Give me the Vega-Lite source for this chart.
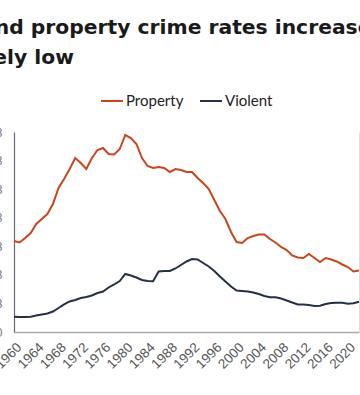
{
  "$schema": "https://vega.github.io/schema/vega-lite/v6.json",
  "width": 345,
  "height": 200,
  "autosize": {"type": "none"},
  "padding": {"left": 14, "top": 132, "right": 1, "bottom": 63},
  "background": "white",
  "title": {
    "text": ["Violent and property crime rates increased through 1991, but today each rate", "is relatively low"],
    "anchor": "start",
    "frame": "group",
    "dx": -121,
    "font": "DejaVu Sans",
    "fontSize": 20.3,
    "fontWeight": "bold",
    "color": "#1a1a1a",
    "lineHeight": 30,
    "offset": 21
  },
  "config": {
    "view": {"stroke": null},
    "legend": {"layout": {"top": {"anchor": "middle"}}}
  },
  "datasets": {
    "crime": [
      {"year": 1960, "series": "Property", "value": 3185},
      {"year": 1961, "series": "Property", "value": 3133},
      {"year": 1962, "series": "Property", "value": 3290},
      {"year": 1963, "series": "Property", "value": 3465},
      {"year": 1964, "series": "Property", "value": 3780},
      {"year": 1965, "series": "Property", "value": 3955},
      {"year": 1966, "series": "Property", "value": 4130},
      {"year": 1967, "series": "Property", "value": 4480},
      {"year": 1968, "series": "Property", "value": 5040},
      {"year": 1969, "series": "Property", "value": 5355},
      {"year": 1970, "series": "Property", "value": 5705},
      {"year": 1971, "series": "Property", "value": 6090},
      {"year": 1972, "series": "Property", "value": 5915},
      {"year": 1973, "series": "Property", "value": 5705},
      {"year": 1974, "series": "Property", "value": 6090},
      {"year": 1975, "series": "Property", "value": 6370},
      {"year": 1976, "series": "Property", "value": 6440},
      {"year": 1977, "series": "Property", "value": 6230},
      {"year": 1978, "series": "Property", "value": 6213},
      {"year": 1979, "series": "Property", "value": 6405},
      {"year": 1980, "series": "Property", "value": 6895},
      {"year": 1981, "series": "Property", "value": 6790},
      {"year": 1982, "series": "Property", "value": 6580},
      {"year": 1983, "series": "Property", "value": 6090},
      {"year": 1984, "series": "Property", "value": 5810},
      {"year": 1985, "series": "Property", "value": 5740},
      {"year": 1986, "series": "Property", "value": 5775},
      {"year": 1987, "series": "Property", "value": 5740},
      {"year": 1988, "series": "Property", "value": 5600},
      {"year": 1989, "series": "Property", "value": 5705},
      {"year": 1990, "series": "Property", "value": 5670},
      {"year": 1991, "series": "Property", "value": 5600},
      {"year": 1992, "series": "Property", "value": 5600},
      {"year": 1993, "series": "Property", "value": 5390},
      {"year": 1994, "series": "Property", "value": 5215},
      {"year": 1995, "series": "Property", "value": 5005},
      {"year": 1996, "series": "Property", "value": 4620},
      {"year": 1997, "series": "Property", "value": 4235},
      {"year": 1998, "series": "Property", "value": 3955},
      {"year": 1999, "series": "Property", "value": 3500},
      {"year": 2000, "series": "Property", "value": 3150},
      {"year": 2001, "series": "Property", "value": 3115},
      {"year": 2002, "series": "Property", "value": 3290},
      {"year": 2003, "series": "Property", "value": 3360},
      {"year": 2004, "series": "Property", "value": 3413},
      {"year": 2005, "series": "Property", "value": 3413},
      {"year": 2006, "series": "Property", "value": 3255},
      {"year": 2007, "series": "Property", "value": 3133},
      {"year": 2008, "series": "Property", "value": 2975},
      {"year": 2009, "series": "Property", "value": 2870},
      {"year": 2010, "series": "Property", "value": 2678},
      {"year": 2011, "series": "Property", "value": 2608},
      {"year": 2012, "series": "Property", "value": 2590},
      {"year": 2013, "series": "Property", "value": 2730},
      {"year": 2014, "series": "Property", "value": 2590},
      {"year": 2015, "series": "Property", "value": 2450},
      {"year": 2016, "series": "Property", "value": 2590},
      {"year": 2017, "series": "Property", "value": 2538},
      {"year": 2018, "series": "Property", "value": 2468},
      {"year": 2019, "series": "Property", "value": 2363},
      {"year": 2020, "series": "Property", "value": 2275},
      {"year": 2021, "series": "Property", "value": 2118},
      {"year": 2022, "series": "Property", "value": 2153},
      {"year": 1960, "series": "Violent", "value": 536},
      {"year": 1961, "series": "Violent", "value": 525},
      {"year": 1962, "series": "Violent", "value": 525},
      {"year": 1963, "series": "Violent", "value": 536},
      {"year": 1964, "series": "Violent", "value": 578},
      {"year": 1965, "series": "Violent", "value": 613},
      {"year": 1966, "series": "Violent", "value": 648},
      {"year": 1967, "series": "Violent", "value": 718},
      {"year": 1968, "series": "Violent", "value": 840},
      {"year": 1969, "series": "Violent", "value": 963},
      {"year": 1970, "series": "Violent", "value": 1068},
      {"year": 1971, "series": "Violent", "value": 1120},
      {"year": 1972, "series": "Violent", "value": 1190},
      {"year": 1973, "series": "Violent", "value": 1225},
      {"year": 1974, "series": "Violent", "value": 1278},
      {"year": 1975, "series": "Violent", "value": 1365},
      {"year": 1976, "series": "Violent", "value": 1418},
      {"year": 1977, "series": "Violent", "value": 1558},
      {"year": 1978, "series": "Violent", "value": 1663},
      {"year": 1979, "series": "Violent", "value": 1785},
      {"year": 1980, "series": "Violent", "value": 2030},
      {"year": 1981, "series": "Violent", "value": 1978},
      {"year": 1982, "series": "Violent", "value": 1908},
      {"year": 1983, "series": "Violent", "value": 1820},
      {"year": 1984, "series": "Violent", "value": 1785},
      {"year": 1985, "series": "Violent", "value": 1775},
      {"year": 1986, "series": "Violent", "value": 2118},
      {"year": 1987, "series": "Violent", "value": 2135},
      {"year": 1988, "series": "Violent", "value": 2135},
      {"year": 1989, "series": "Violent", "value": 2223},
      {"year": 1990, "series": "Violent", "value": 2345},
      {"year": 1991, "series": "Violent", "value": 2468},
      {"year": 1992, "series": "Violent", "value": 2555},
      {"year": 1993, "series": "Violent", "value": 2538},
      {"year": 1994, "series": "Violent", "value": 2415},
      {"year": 1995, "series": "Violent", "value": 2293},
      {"year": 1996, "series": "Violent", "value": 2135},
      {"year": 1997, "series": "Violent", "value": 1943},
      {"year": 1998, "series": "Violent", "value": 1768},
      {"year": 1999, "series": "Violent", "value": 1593},
      {"year": 2000, "series": "Violent", "value": 1453},
      {"year": 2001, "series": "Violent", "value": 1435},
      {"year": 2002, "series": "Violent", "value": 1418},
      {"year": 2003, "series": "Violent", "value": 1383},
      {"year": 2004, "series": "Violent", "value": 1330},
      {"year": 2005, "series": "Violent", "value": 1260},
      {"year": 2006, "series": "Violent", "value": 1215},
      {"year": 2007, "series": "Violent", "value": 1215},
      {"year": 2008, "series": "Violent", "value": 1173},
      {"year": 2009, "series": "Violent", "value": 1103},
      {"year": 2010, "series": "Violent", "value": 1033},
      {"year": 2011, "series": "Violent", "value": 963},
      {"year": 2012, "series": "Violent", "value": 963},
      {"year": 2013, "series": "Violent", "value": 945},
      {"year": 2014, "series": "Violent", "value": 910},
      {"year": 2015, "series": "Violent", "value": 917},
      {"year": 2016, "series": "Violent", "value": 980},
      {"year": 2017, "series": "Violent", "value": 1015},
      {"year": 2018, "series": "Violent", "value": 1022},
      {"year": 2019, "series": "Violent", "value": 1022},
      {"year": 2020, "series": "Violent", "value": 991},
      {"year": 2021, "series": "Violent", "value": 1005},
      {"year": 2022, "series": "Violent", "value": 1061}
    ]
  },
  "data": {"name": "crime"},
  "encoding": {
    "x": {
      "field": "year", "type": "quantitative",
      "scale": {"domain": [1960, 2022], "nice": false, "zero": false},
      "axis": {
        "title": null, "values": [1960,1964,1968,1972,1976,1980,1984,1988,1992,1996,2000,2004,2008,2012,2016,2020],
        "format": "d", "labelAngle": -45, "labelFont": "Liberation Sans", "labelFontSize": 13.5,
        "labelColor": "#555555", "ticks": false, "labelPadding": 8, "grid": false,
        "domainColor": "#aaaaaa", "domainWidth": 1.5, "labelOverlap": false, "labelFlush": false, "labelBound": false
      }
    }
  },
  "layer": [
    {
      "mark": {"type": "line", "strokeWidth": 2},
      "encoding": {
        "y": {
          "field": "value", "type": "quantitative",
          "scale": {"domain": [0, 7000], "nice": false},
          "axis": {
            "title": null, "values": [0,1000,2000,3000,4000,5000,6000,7000], "format": ",",
            "labelFont": "Liberation Sans", "labelFontSize": 12, "labelColor": "#777777",
            "ticks": false, "labelPadding": 12, "grid": false, "domainColor": "#666b75", "domainWidth": 1.2
          }
        },
        "color": {
          "field": "series", "type": "nominal",
          "scale": {"domain": ["Property", "Violent"], "range": ["#c9461d", "#233048"]},
          "legend": {
            "title": null, "orient": "top", "direction": "horizontal", "symbolType": "stroke",
            "symbolSize": 484, "symbolStrokeWidth": 2, "labelFont": "Lato", "labelFontSize": 15,
            "labelColor": "#222222", "labelOffset": 2, "columnPadding": 12, "offset": 22
          }
        }
      }
    },
    {
      "mark": {"type": "line", "opacity": 0},
      "encoding": {
        "y": {
          "field": "value", "type": "quantitative",
          "scale": {"domain": [0, 7000], "nice": false},
          "axis": {
            "orient": "right", "title": null, "values": [0,1000,2000,3000,4000,5000,6000,7000],
            "ticks": false, "grid": false, "labelPadding": 12, "labelColor": "#777777",
            "domainColor": "#dddddd", "domainWidth": 1
          }
        },
        "detail": {"field": "series", "type": "nominal"}
      }
    }
  ],
  "resolve": {"scale": {"y": "independent"}}
}
